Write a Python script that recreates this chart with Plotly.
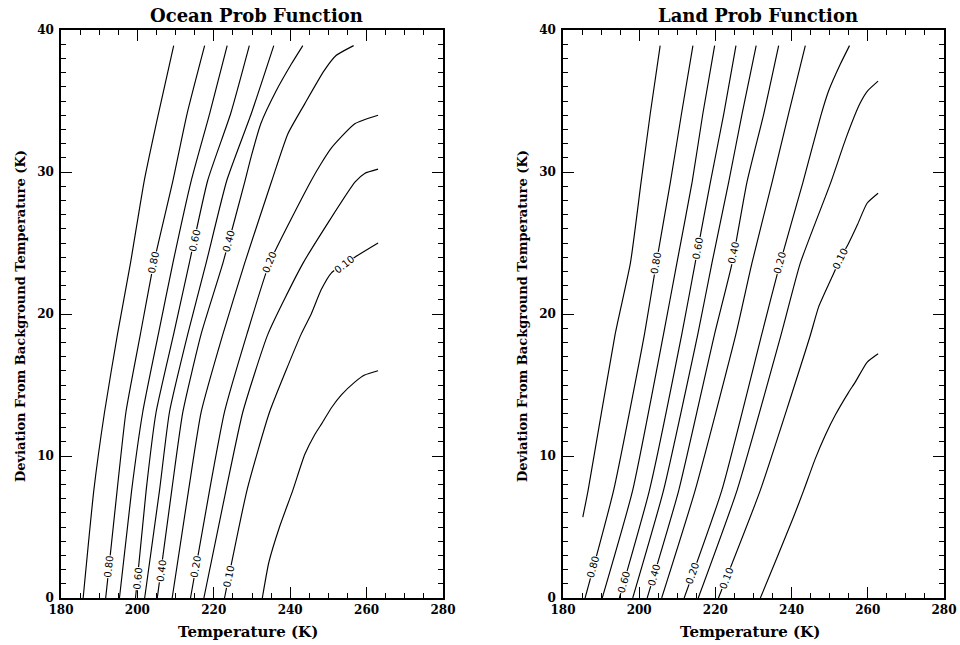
import numpy as np
import plotly.graph_objects as go

# ---------------- data ----------------
contour_levels = [0.90, 0.80, 0.70, 0.60, 0.50, 0.40, 0.30, 0.20, 0.15, 0.10, 0.05]
labelled_levels = [0.80, 0.60, 0.40, 0.20, 0.10]

x_ticks = [180, 200, 220, 240, 260, 280]
y_ticks = [0, 10, 20, 30, 40]

# Ocean: temperature (K) and deviation (K) along each contour
ocean_T = [
    [185.8, 188.6, 191.4, 194.8, 198.2, 201.8, 205.5, 209.5],
    [191.7, 194.7, 197.0, 200.8, 204.3, 209.3, 213.0, 217.6],
    [195.3, 198.5, 201.4, 205.5, 209.3, 214.1, 218.9, 223.5],
    [199.5, 202.3, 204.9, 209.5, 213.6, 218.4, 224.4, 229.3],
    [201.9, 205.8, 208.4, 213.2, 218.0, 223.4, 229.8, 235.7],
    [205.2, 209.0, 211.9, 216.7, 222.4, 228.0, 229.8, 232.3, 236.3, 240.3, 243.3],
    [209.1, 213.4, 216.7, 222.4, 228.1, 235.2, 239.4, 243.8, 248.8, 252.0, 256.6],
    [213.9, 218.9, 222.8, 228.7, 234.6, 245.3, 248.1, 250.8, 256.9, 263.0],
    [217.4, 223.2, 227.6, 234.2, 243.4, 257.0, 259.5, 263.0],
    [222.8, 228.7, 234.6, 242.9, 245.5, 248.1, 250.8, 256.9, 263.0],
    [232.7, 234.4, 237.2, 240.7, 243.8, 246.4, 248.3, 250.8, 253.4, 256.9, 259.5, 263.0],
]
ocean_D = [
    [0, 7.6, 13.1, 18.6, 23.6, 29.4, 34.1, 38.9],
    [0, 7.6, 13.1, 18.6, 23.6, 29.4, 34.1, 38.9],
    [0, 7.6, 13.1, 18.6, 23.6, 29.4, 34.1, 38.9],
    [0, 7.6, 13.1, 18.6, 23.6, 29.4, 34.1, 38.9],
    [0, 7.6, 13.1, 18.6, 23.6, 29.4, 34.1, 38.9],
    [0, 7.6, 13.1, 18.6, 23.6, 29.2, 31.1, 33.4, 35.7, 37.6, 38.9],
    [0, 7.6, 13.1, 18.6, 23.6, 29.4, 32.7, 34.8, 37.1, 38.2, 38.9],
    [0, 7.6, 13.1, 18.6, 23.6, 29.3, 30.6, 31.7, 33.4, 34.0],
    [0, 7.6, 13.1, 18.6, 23.6, 29.3, 29.9, 30.2],
    [0, 7.6, 13.1, 18.6, 20.0, 21.7, 22.9, 24.0, 25.0],
    [0, 2.5, 5.0, 7.6, 10.1, 11.5, 12.3, 13.4, 14.3, 15.2, 15.7, 16.0],
]

# Land
land_T = [
    [185.2, 186.6, 193.7, 197.7, 200.5, 202.9, 205.5],
    [185.8, 193.3, 201.4, 204.5, 208.2, 211.1, 214.1],
    [190.3, 198.3, 206.4, 209.9, 213.9, 216.7, 219.8],
    [194.8, 202.7, 211.2, 214.7, 218.7, 222.2, 225.4],
    [198.3, 206.4, 215.4, 219.1, 223.5, 227.0, 230.7],
    [202.1, 210.4, 219.8, 224.4, 228.3, 232.7, 236.6],
    [205.9, 214.7, 225.4, 229.6, 234.9, 239.2, 243.6],
    [211.8, 221.7, 232.2, 237.0, 242.9, 247.6, 249.7, 252.8, 255.2],
    [215.5, 225.7, 237.3, 242.3, 250.2, 254.3, 257.9, 259.9, 262.7],
    [220.8, 231.8, 244.8, 247.1, 250.6, 252.8, 255.0, 257.3, 259.8, 262.7],
    [231.8, 236.1, 240.5, 243.2, 246.2, 248.9, 251.5, 255.0, 256.7, 259.8, 262.7],
]
land_D = [
    [5.7, 7.6, 18.6, 23.6, 29.3, 34.1, 38.9],
    [0, 7.6, 18.6, 23.6, 29.3, 34.1, 38.9],
    [0, 7.6, 18.6, 23.6, 29.3, 34.1, 38.9],
    [0, 7.6, 18.6, 23.6, 29.3, 34.1, 38.9],
    [0, 7.6, 18.6, 23.6, 29.3, 34.1, 38.9],
    [0, 7.6, 18.6, 23.6, 29.3, 34.1, 38.9],
    [0, 7.6, 18.6, 23.6, 29.3, 34.1, 38.9],
    [0, 7.6, 18.6, 23.6, 29.2, 33.9, 35.7, 37.6, 38.9],
    [0, 7.6, 18.6, 23.6, 29.2, 32.4, 34.8, 35.7, 36.4],
    [0, 7.6, 18.4, 20.5, 22.6, 23.9, 25.0, 26.3, 27.8, 28.5],
    [0, 2.8, 5.7, 7.6, 9.8, 11.5, 12.9, 14.5, 15.2, 16.6, 17.2],
]

# ---------------- layout constants (screen pixels of the 960x645 window) ----------------
W, H = 960, 645
LEFT_BOX = (61, 443)
RIGHT_BOX = (563, 944)
TOP_PX, BOT_PX = 30, 598


def px(sx):
    return sx / W


def py(sy):
    return (H - sy) / H


# where (in deviation) the level labels sit on each labelled contour
OCEAN_LABEL_DEV = {0.80: [2.2, 23.6], 0.60: [1.4, 25.2], 0.40: [1.9, 25.1], 0.20: [2.2, 23.6], 0.10: [1.5, 23.5]}
LAND_LABEL_DEV = {0.80: [2.2, 23.6], 0.60: [1.1, 24.6], 0.40: [1.6, 24.3], 0.20: [1.7, 23.6], 0.10: [1.4, 23.9]}

FONT = "DejaVu Serif"

fig = go.Figure()


def add_panel(Ts, Ds, xref, yref, box, label_dev):
    px_t = (box[1] - box[0]) / (x_ticks[-1] - x_ticks[0])
    px_d = (BOT_PX - TOP_PX) / (y_ticks[-1] - y_ticks[0])
    for lev, T, D in zip(contour_levels, Ts, Ds):
        fig.add_trace(go.Scatter(
            x=T, y=D, mode="lines", xaxis=xref, yaxis=yref,
            line=dict(color="black", width=1.15, shape="spline", smoothing=0.5),
            hoverinfo="skip", showlegend=False))
        if lev in label_dev:
            for d in label_dev[lev]:
                t = float(np.interp(d, D, T))
                d1 = max(d - 1.5, D[0])
                d2 = min(d + 1.5, D[-1])
                t1 = float(np.interp(d1, D, T))
                t2 = float(np.interp(d2, D, T))
                ang = np.degrees(np.arctan2((d2 - d1) * px_d, (t2 - t1) * px_t))
                fig.add_annotation(
                    x=t, y=d, xref=xref, yref=yref, text=f"{lev:.2f}",
                    showarrow=False, textangle=-ang, xanchor="center", yanchor="middle",
                    font=dict(family="DejaVu Sans", size=10, color="black"),
                    bgcolor="white", borderpad=0)


add_panel(ocean_T, ocean_D, "x", "y", LEFT_BOX, OCEAN_LABEL_DEV)
add_panel(land_T, land_D, "x2", "y2", RIGHT_BOX, LAND_LABEL_DEV)

ydom = [py(BOT_PX), py(TOP_PX)]
tickfont = dict(family=FONT, size=12, color="black", weight="bold")
xcommon = dict(range=[x_ticks[0], x_ticks[-1]], tickvals=x_ticks, ticks="inside", ticklen=11,
               tickwidth=1.3, tickcolor="black", showline=True, linecolor="black", linewidth=1.5,
               mirror="allticks", showgrid=False, zeroline=False, tickfont=tickfont, automargin=False,
               minor=dict(dtick=5, ticks="inside", ticklen=5, tickcolor="black", tickwidth=1, showgrid=False))
ycommon = dict(range=[y_ticks[0], y_ticks[-1]], tickvals=y_ticks, ticks="inside", ticklen=11,
               tickwidth=1.3, tickcolor="black", showline=True, linecolor="black", linewidth=1.5,
               mirror="allticks", showgrid=False, zeroline=False, tickfont=tickfont, automargin=False,
               ticklabelstandoff=3,
               minor=dict(dtick=1, ticks="inside", ticklen=5, tickcolor="black", tickwidth=1, showgrid=False))

fig.update_layout(
    width=W, height=H, margin=dict(l=0, r=0, t=0, b=0, pad=0, autoexpand=False),
    paper_bgcolor="white", plot_bgcolor="white",
    xaxis=dict(domain=[px(LEFT_BOX[0]), px(LEFT_BOX[1])], anchor="y", **xcommon),
    yaxis=dict(domain=ydom, anchor="x", **ycommon),
    xaxis2=dict(domain=[px(RIGHT_BOX[0]), px(RIGHT_BOX[1])], anchor="y2", **xcommon),
    yaxis2=dict(domain=ydom, anchor="x2", **ycommon),
)

titles = ["Ocean Prob Function", "Land Prob Function"]
for title, box in zip(titles, [LEFT_BOX, RIGHT_BOX]):
    cx = (box[0] + box[1]) / 2
    fig.add_annotation(x=px(cx + 4), y=py(15), xref="paper", yref="paper", text=title,
                       xanchor="center", yanchor="middle",
                       showarrow=False, font=dict(family=FONT, size=18, color="black", weight="bold"))
    fig.add_annotation(x=px(cx - 4), y=py(632), xref="paper", yref="paper", text="Temperature (K)",
                       xanchor="center", yanchor="middle",
                       showarrow=False, font=dict(family=FONT, size=15, color="black", weight="bold"))
    fig.add_annotation(x=px(box[0] - 41), y=py(316), xref="paper", yref="paper",
                       text="Deviation From Background Temperature (K)", textangle=-90,
                       xanchor="center", yanchor="middle",
                       showarrow=False, font=dict(family=FONT, size=13, color="black", weight="bold"))

# remove the html page's default body margin so the 960x645 figure fills the window exactly
fig.write_html("out.html", config={"displayModeBar": False},
               post_script="document.body.style.margin='0';document.body.style.overflow='hidden';")
